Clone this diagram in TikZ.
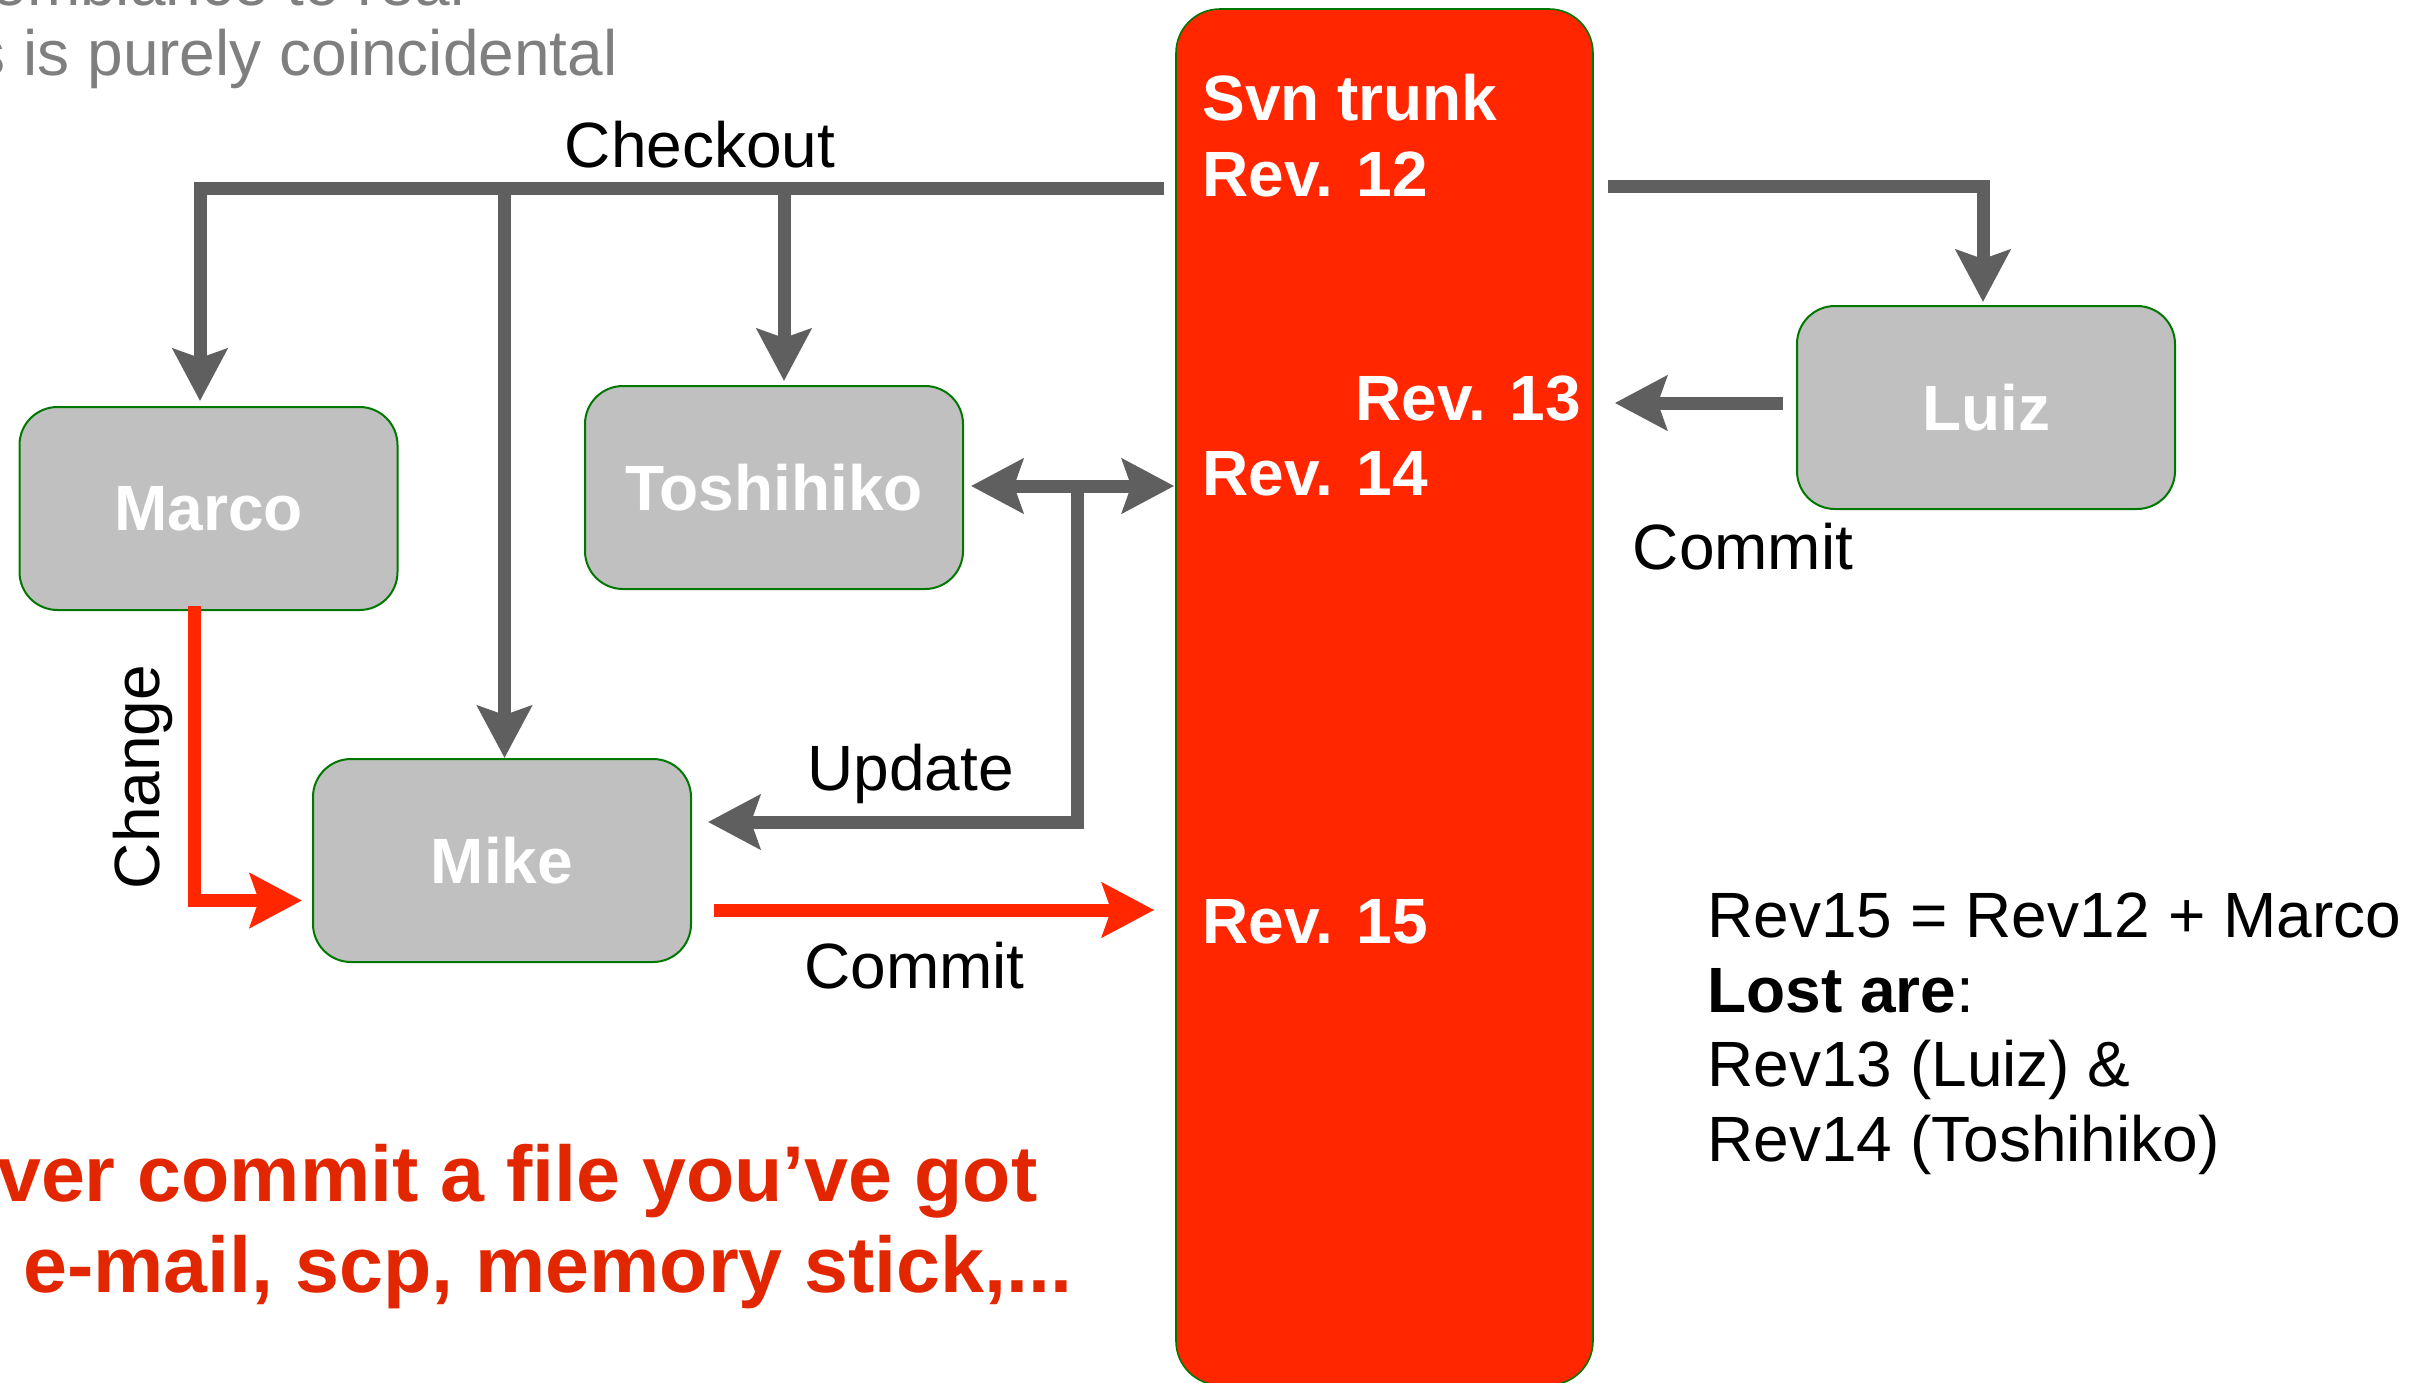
\documentclass[tikz,border=0pt]{standalone}
\usepackage{fontspec}
\setmainfont{Liberation Sans}
\usetikzlibrary{arrows.meta,calc}
\definecolor{trunkred}{RGB}{255,38,0}
\definecolor{msgred}{RGB}{226,38,0}
\definecolor{arrowgray}{RGB}{95,95,95}
\definecolor{boxgray}{RGB}{192,192,192}
\definecolor{edgegreen}{RGB}{0,120,0}
\definecolor{notegray}{RGB}{127,127,127}
\begin{document}
\begin{tikzpicture}[x=0.5pt,y=-0.5pt,
  person/.style={rectangle, rounded corners=19pt, fill=boxgray, draw=edgegreen, line width=1pt,
    minimum width=189pt, minimum height=101.5pt, inner sep=0pt, text=white,
    font=\fontsize{32}{38}\selectfont\bfseries},
  trunk/.style={rectangle, rounded corners=22pt, fill=trunkred, draw=edgegreen, line width=0.8pt,
    minimum width=208.5pt, minimum height=688pt, inner sep=0pt},
  revlabel/.style={text=white, font=\fontsize{32}{38}\selectfont\bfseries, inner sep=0pt},
  lbl/.style={font=\fontsize{32}{38}\selectfont, inner sep=0pt},
  note/.style={text=notegray, font=\fontsize{32}{38}\selectfont, inner sep=0pt},
  warn/.style={text=msgred, font=\fontsize{39.5}{46}\selectfont\bfseries, inner sep=0pt},
  garrow/.style={draw=arrowgray, line width=6.5pt, -{Stealth[length=26pt,width=27pt,inset=4.5pt]}},
  gboth/.style={draw=arrowgray, line width=6.5pt, {Stealth[length=26pt,width=27pt,inset=4.5pt]}-{Stealth[length=26pt,width=27pt,inset=4.5pt]}},
  rarrow/.style={draw=trunkred, line width=6.5pt, -{Stealth[length=26pt,width=27pt,inset=4.5pt]}}
]
\useasboundingbox (0,0) rectangle (2431,1382);
\clip (0,0) rectangle (2431,1382);

% top note (cut off)
\node[note, anchor=base east] (note1) at (465,5) {emblance to real};
\node[note, anchor=base east] (note2) at (618,75) {s is purely coincidental};

% trunk
\node[trunk] (svn) at (1384.5,697) {};
\node[revlabel, anchor=base west] (svnt) at (1202,120.5) {Svn trunk};
\node[revlabel, anchor=base west] (r12) at (1202,196) {Rev. 12};
\node[revlabel, anchor=base west] (r13) at (1355,420) {Rev. 13};
\node[revlabel, anchor=base west] (r14) at (1202,495) {Rev. 14};
\node[revlabel, anchor=base west] (r15) at (1202,943) {Rev. 15};

% people
\node[person] (marco) at (208.5,508.5) {Marco};
\node[person] (toshi) at (774,487.5) {Toshihiko};
\node[person] (mike) at (502,860.5) {Mike};
\node[person] (luiz) at (1986,407.5) {Luiz};

% checkout
\coordinate (co) at ($(svn.west)+(-11,-509)$);
\draw[garrow] (co) -| ($(marco.north)+(-8.5,-5)$);
\draw[garrow] ($(mike.north |- co)+(2.5,0)$) -- ($(mike.north)+(2.5,0)$);
\draw[garrow] ($(toshi.north |- co)+(10,0)$) -- ($(toshi.north)+(10,-4)$);
\node[lbl, anchor=base] (lcheckout) at (700,167) {Checkout};

\coordinate (lco) at ($(svn.east)+(14,-511)$);
\draw[garrow] (lco) -| ($(luiz.north)+(-3,-3)$);

% Luiz commit
\draw[garrow] ($(luiz.west)+(-13,-4.5)$) -- ($(svn.east)+(21,-294)$);
\node[lbl, anchor=base] (lcommit1) at (1743,569) {Commit};

% Toshihiko double arrow and update
\draw[gboth] ($(toshi.east)+(7,-1.5)$) -- ($(svn.west)+(-1,-211)$);
\coordinate (upd) at (1077,486);
\draw[garrow] (upd) |- ($(mike.east)+(16,-38.5)$);
\node[lbl, anchor=base] (lupdate) at (910.5,790) {Update};

% Marco change
\draw[rarrow] ($(marco.south)+(-14.5,-5)$) |- ($(mike.west)+(-10,40)$);
\node[lbl, anchor=base, rotate=90] (lchange) at (159,777) {Change};

% Mike commit
\draw[rarrow] ($(mike.east)+(22,49.5)$) -- ($(svn.west)+(-21,213)$);
\node[lbl, anchor=base] (lcommit2) at (914.5,988) {Commit};

% right explanation
\node[lbl, anchor=base west] (t1) at (1707,937) {Rev15 = Rev12 + Marco};
\node[lbl, anchor=base west] (t2) at (1707,1012) {\textbf{Lost are}:};
\node[lbl, anchor=base west] (t3) at (1707,1086) {Rev13 (Luiz) \&};
\node[lbl, anchor=base west] (t4) at (1707,1161) {Rev14 (Toshihiko)};

% warning
\node[warn, anchor=base east] (w1) at (1038,1201) {ver commit a file you’ve got};
\node[warn, anchor=base east] (w2) at (1073,1292) {e-mail, scp, memory stick,...};
\end{tikzpicture}
\end{document}
